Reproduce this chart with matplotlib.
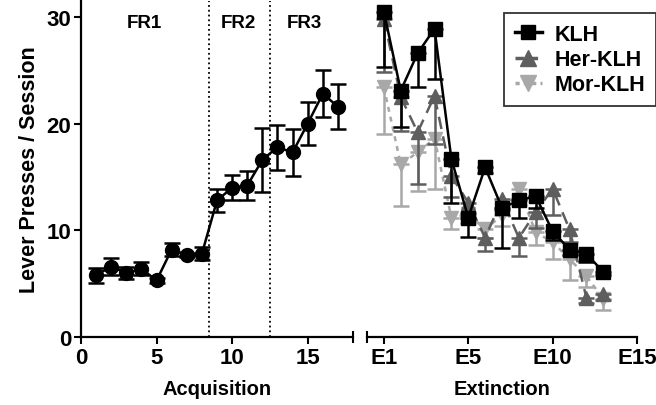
import numpy as np
import matplotlib
matplotlib.use('Agg')
import matplotlib.pyplot as plt
from matplotlib.lines import Line2D

plt.rcParams['font.family'] = ['Liberation Sans', 'DejaVu Sans']
plt.rcParams['font.weight'] = 'bold'

# acquisition sessions (all rats)
acqSessions = np.arange(1, 18)
acqMean = [5.8, 6.6, 6.0, 6.4, 5.3, 8.2, 7.7, 7.8, 12.8, 14.0, 14.2, 16.6, 17.8, 17.3, 20.0, 22.8, 21.6]
acqErr = [0.7, 0.8, 0.6, 0.6, 0.2, 0.6, 0.2, 0.6, 1.1, 1.2, 1.4, 3.0, 2.1, 2.2, 2.0, 2.2, 2.1]

# extinction sessions (only the lower half of the error bar is drawn)
extSessions = np.arange(0, 14)
klhMean = [30.5, 23.1, 26.6, 28.9, 16.7, 11.2, 15.9, 12.1, 12.8, 13.2, 9.9, 8.2, 7.8, 6.1]
klhErr = [5.2, 3.4, 3.2, 4.7, 4.1, 1.8, 0.5, 3.8, 1.6, 1.1, 0.8, 0.5, 0.8, 0.3]
herMean = [29.8, 22.5, 19.2, 22.6, 15.1, 12.6, 9.3, 12.9, 9.3, 11.7, 13.9, 10.1, 3.7, 4.0]
herErr = [5.0, 3.2, 4.9, 4.5, 2.0, 1.0, 1.2, 1.0, 1.7, 1.5, 2.5, 1.2, 0.5, 0.5]
morMean = [23.4, 16.2, 17.3, 18.6, 11.2, 11.5, 10.1, 11.4, 13.9, 9.8, 8.9, 7.3, 5.7, 3.6]
morErr = [4.4, 3.9, 3.6, 4.7, 1.1, 0.8, 0.8, 1.0, 1.5, 1.2, 1.6, 2.0, 1.0, 1.1]

extTicks = [0, 5, 10, 15]
extTickLabels = ['E1', 'E5', 'E10', 'E15']

phaseBreaks = [8.5, 12.5]
phaseNames = ['FR1', 'FR2', 'FR3']
phaseX = [4.2, 10.4, 14.8]

herColor = '#5e5e5e'
morColor = '#a8a8a8'

fig = plt.figure(figsize=(6.56, 4.06), dpi=100)
axL = fig.add_axes([81/656, 68/406, 272/656, 336/406])
axR = fig.add_axes([367/656, 68/406, 270/656, 336/406])

for ax in (axL, axR):
    ax.set_ylim(0, 31.5)
    for s in ('top', 'right'):
        ax.spines[s].set_visible(False)
    ax.spines['left'].set_linewidth(1.6)
    ax.spines['bottom'].set_linewidth(1.6)
    ax.tick_params(direction='out', length=5, width=1.5, labelsize=16, pad=2)

# acquisition
axL.errorbar(acqSessions, acqMean, yerr=acqErr, color='black', marker='o', markersize=10,
             lw=1.8, elinewidth=1.8, capsize=6, capthick=1.8, clip_on=False, zorder=3)
for b in phaseBreaks:
    axL.axvline(b, color='black', ls=':', lw=1.3)
for name, px in zip(phaseNames, phaseX):
    axL.text(px, 29.5, name, ha='center', va='center', fontsize=13.5, fontweight='bold')
axL.set_xlim(0, 18)
axL.set_xticks([0, 5, 10, 15])
axL.set_yticks([0, 10, 20, 30])
axL.set_xlabel('Acquisition', fontsize=14.5, fontweight='bold', labelpad=8)
axL.set_ylabel('Lever Presses / Session', fontsize=15.5, fontweight='bold', labelpad=5)
axL.set_xticks([18], minor=True)
axL.tick_params(axis='x', which='minor', direction='inout', length=9, width=1.5)

def lowerOnly(err):
    return [err, np.zeros(len(err))]

axR.errorbar(extSessions, morMean, yerr=lowerOnly(morErr), color=morColor, marker='v', markersize=10.5,
             lw=1.8, ls=(0, (2, 2)), elinewidth=1.8, capsize=6, capthick=1.8, clip_on=False, zorder=2)
axR.errorbar(extSessions, herMean, yerr=lowerOnly(herErr), color=herColor, marker='^', markersize=10.5,
             lw=1.8, ls=(0, (5, 3)), elinewidth=1.8, capsize=6, capthick=1.8, clip_on=False, zorder=3)
axR.errorbar(extSessions, klhMean, yerr=lowerOnly(klhErr), color='black', marker='s', markersize=10,
             lw=1.8, elinewidth=1.8, capsize=6, capthick=1.8, clip_on=False, zorder=4)
axR.set_xlim(-1, 15)
axR.set_xticks(extTicks)
axR.set_xticklabels(extTickLabels)
axR.set_xticks([-1], minor=True)
axR.tick_params(axis='x', which='minor', direction='inout', length=9, width=1.5)
axR.spines['left'].set_visible(False)
axR.set_yticks([])
axR.set_xlabel('Extinction', fontsize=14.5, fontweight='bold', labelpad=8)

handles = [
    Line2D([], [], color='black', marker='s', markersize=9.5, lw=2.5),
    Line2D([], [], color=herColor, marker='^', markersize=11, lw=2.5, ls=(0, (2.5, 1.5))),
    Line2D([], [], color=morColor, marker='v', markersize=11, lw=2.5, ls=(0, (1.2, 1.2))),
]
leg = fig.legend(handles, ['KLH', 'Her-KLH', 'Mor-KLH'], loc='upper right',
                 bbox_to_anchor=(1.0, 1 - 14/406), fontsize=15.5, frameon=True,
                 fancybox=False, edgecolor='black', handlelength=1.25, labelspacing=0.2,
                 borderpad=0.5, handletextpad=0.6, borderaxespad=0)
leg.get_frame().set_linewidth(1.3)
for t in leg.get_texts():
    t.set_fontweight('bold')

fig.savefig('out.png', dpi=100)
